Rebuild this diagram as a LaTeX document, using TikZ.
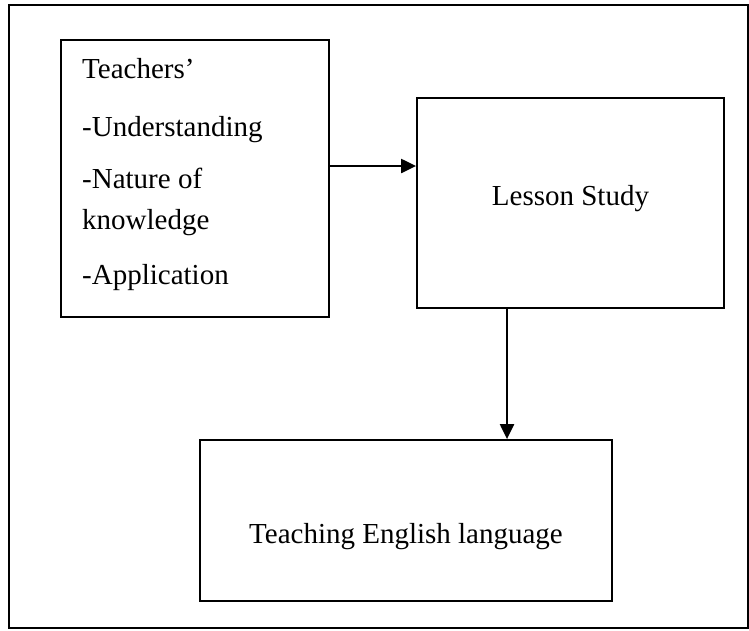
\documentclass[tikz,border=0pt]{standalone}
\usepackage{fontspec}
\setmainfont{Liberation Serif}
\usetikzlibrary{arrows.meta}
\begin{document}
\begin{tikzpicture}[x=1pt,y=-1pt,
  boxstyle/.style={draw=black,line width=1.8pt,inner sep=0pt},
  txt/.style={font=\fontsize{29}{33}\selectfont,inner sep=0pt,anchor=base west},
  conn/.style={line width=2.2pt,-{Triangle[length=15pt,width=14pt]}}]
\useasboundingbox (0,0) rectangle (749,630);
\node[boxstyle,minimum width=739pt,minimum height=623pt] (frame) at (378.5,316.5) {};
\node[boxstyle,minimum width=268pt,minimum height=277pt] (b1) at (195,178.5) {};
\node[boxstyle,minimum width=307pt,minimum height=210pt] (b2) at (570.5,203) {};
\node[boxstyle,minimum width=412pt,minimum height=161pt] (b3) at (406,520.5) {};
\node[txt] (t1) at (82,78) {Teachers’};
\node[txt] (t2) at (82,136) {-Understanding};
\node[txt] (t3) at (82,188) {-Nature of};
\node[txt] (t4) at (82,229) {knowledge};
\node[txt] (t5) at (82,284) {-Application};
\node[txt,anchor=base] (l2) at (570.5,205) {Lesson Study};
\node[txt,anchor=base] (l3) at (406,543) {Teaching English language};
\coordinate (a1s) at (b1.east |- 0,166);
\coordinate (a1e) at (b2.west |- 0,166);
\draw[conn] (a1s) -- (a1e);
\coordinate (a2s) at (507,0 |- b2.south);
\coordinate (a2e) at (507,0 |- b3.north);
\draw[conn] (a2s) -- (a2e);
\end{tikzpicture}
\end{document}
